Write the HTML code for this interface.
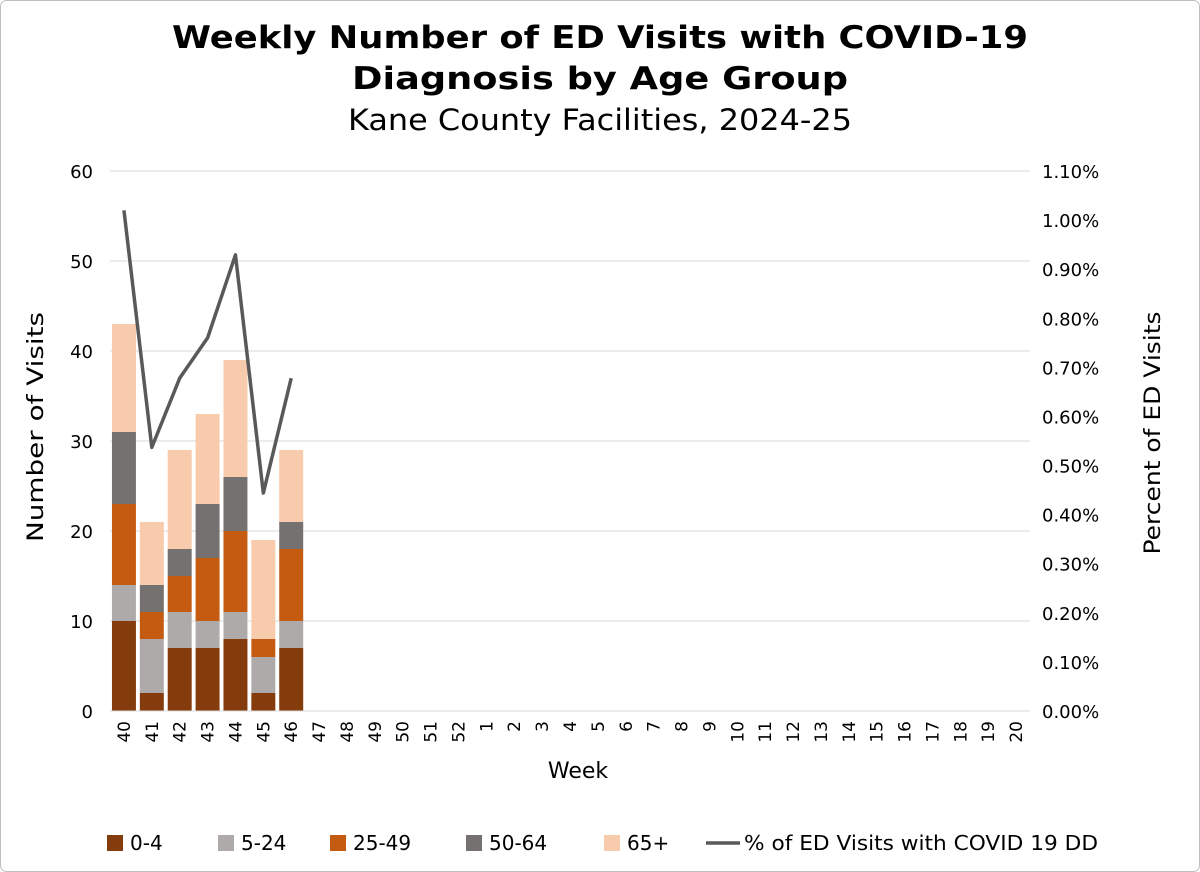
<!DOCTYPE html>
<html><head><meta charset="utf-8"><style>
body{margin:0;background:#fff;}
svg{display:block;font-family:"DejaVu Sans","Liberation Sans",sans-serif;}
</style></head><body>
<svg id="chart" width="1200" height="872" viewBox="0 0 1200 872">
<rect x="0.5" y="0.5" width="1199" height="871" rx="6" fill="#fff" stroke="#bfbfbf"/>
<text x="600" y="48" text-anchor="middle" font-size="31" font-weight="bold" fill="#000" textLength="856" lengthAdjust="spacingAndGlyphs">Weekly Number of ED Visits with COVID-19</text>
<text x="600" y="89" text-anchor="middle" font-size="31" font-weight="bold" fill="#000" textLength="496" lengthAdjust="spacingAndGlyphs">Diagnosis by Age Group</text>
<text x="600" y="130" text-anchor="middle" font-size="29" fill="#000" textLength="504" lengthAdjust="spacingAndGlyphs">Kane County Facilities, 2024-25</text>
<g id="grid"></g><g id="bars"></g><g id="line"></g><g id="axes"></g>
<text x="43" y="427" transform="rotate(-90 43 427)" text-anchor="middle" font-size="22" fill="#000" textLength="230" lengthAdjust="spacingAndGlyphs">Number of Visits</text>
<text x="1160" y="433" transform="rotate(-90 1160 433)" text-anchor="middle" font-size="22" fill="#000" textLength="243" lengthAdjust="spacingAndGlyphs">Percent of ED Visits</text>
<text x="578" y="778" text-anchor="middle" font-size="22" fill="#000">Week</text>
<g id="legend"></g>
</svg>
<script>
const weeks=["40","41","42","43","44","45","46","47","48","49","50","51","52","1","2","3","4","5","6","7","8","9","10","11","12","13","14","15","16","17","18","19","20"];
const age0_4=[10,2,7,7,8,2,7];
const age5_24=[4,6,4,3,3,4,3];
const age25_49=[9,3,4,7,9,2,8];
const age50_64=[8,3,3,6,6,0,3];
const age65p=[12,7,11,10,13,11,8];
const pctED=[1.02,0.537,0.678,0.76,0.929,0.444,0.678];
const leftTicks=[0,10,20,30,40,50,60];
const rightTicks=[0,0.1,0.2,0.3,0.4,0.5,0.6,0.7,0.8,0.9,1.0,1.1];
const NS="http://www.w3.org/2000/svg";
const X0=110,X1=1030,Y0=711,Y1=171;
const bw=(X1-X0)/weeks.length;
const y=v=>Y0-(v/60)*(Y0-Y1);
const y2=v=>Y0-(v/1.1)*(Y0-Y1);
const xc=i=>X0+bw*(i+0.5);
function mk(t,a,p){const e=document.createElementNS(NS,t);for(const k in a)e.setAttribute(k,a[k]);p.appendChild(e);return e;}
const grid=document.getElementById('grid'),axes=document.getElementById('axes');
leftTicks.forEach(v=>{
 if(v>0){const l=mk('line',{x1:X0,x2:X1,y1:y(v),y2:y(v),stroke:'#d9d9d9','stroke-width':1},grid);
 
 }
 const t=mk('text',{x:X0-17,y:y(v)+7,'text-anchor':'end','font-size':18},axes);t.textContent=v;
 
 
});
rightTicks.forEach(v=>{
 const t=mk('text',{x:X1+12,y:y2(v)+7,'font-size':18},axes);t.textContent=v.toFixed(2)+'%';
 
 
});
const base=mk('line',{x1:X0,x2:X1,y1:Y0,y2:Y0,stroke:'#d9d9d9','stroke-width':1},axes);


weeks.forEach((w,i)=>{
 const cx=xc(i)+6,cy=Y0+10;
 const t=mk('text',{x:cx,y:cy,'text-anchor':'end','font-size':17,transform:`rotate(-90 ${cx} ${cy})`},axes);t.textContent=w;
 
 
});
const series=[[age0_4,'#843C0C','0-4'],[age5_24,'#AEAAAA','5-24'],[age25_49,'#C55A11','25-49'],[age50_64,'#767171','50-64'],[age65p,'#F8CBAD','65+']];
const bars=document.getElementById('bars');
const barW=bw*0.86;
for(let i=0;i<age0_4.length;i++){let acc=0;
 series.forEach(([arr,c,n])=>{const v=arr[i];if(v>0){
  const r=mk('rect',{x:xc(i)-barW/2,y:y(acc+v),width:barW,height:y(acc)-y(acc+v),fill:c},bars);
  
  }
  acc+=v;});
}
const pts=pctED.map((v,i)=>xc(i)+','+y2(v)).join(' ');
const pl=mk('polyline',{points:pts,fill:'none',stroke:'#595959','stroke-width':3.5,'stroke-linejoin':'round'},document.getElementById('line'));


const lg=document.getElementById('legend');
const legX=[107,218,330,466,604];
series.forEach(([a,c,n],k)=>{
 const r=mk('rect',{x:legX[k],y:835,width:16,height:16,fill:c},lg);
 
 
 const t=mk('text',{x:legX[k]+23,y:850,'font-size':20},lg);t.textContent=n;
 
 
});
const ll=mk('line',{x1:706,x2:740,y1:843,y2:843,stroke:'#595959','stroke-width':3.5},lg);


const lt=mk('text',{x:744,y:850,'font-size':20,textLength:354,lengthAdjust:'spacingAndGlyphs'},lg);lt.textContent='% of ED Visits with COVID 19 DD';


</script>
</body></html>
